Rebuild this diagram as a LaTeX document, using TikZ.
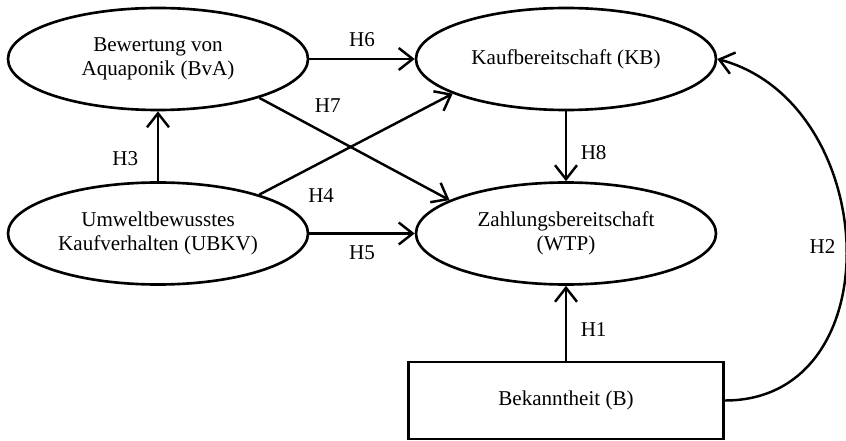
\documentclass[tikz,border=0pt]{standalone}
\usepackage{fontspec}
\setmainfont{Liberation Serif}
\usetikzlibrary{shapes.geometric, arrows.meta, positioning}

\begin{document}
\begin{tikzpicture}[
    font=\fontsize{12}{14}\selectfont,
    line width=1.4pt,
    construct/.style={
        draw=black,
        ellipse,
        line width=1.5pt,
        minimum width=6.0cm,
        minimum height=2.04cm,
        inner sep=0pt,
        align=center
    },
    indicator/.style={
        draw=black,
        rectangle,
        line width=1.5pt,
        minimum width=6.3cm,
        minimum height=1.54cm,
        align=center
    },
    hyp/.style={
        -{Straight Barb[length=2.8mm,width=4.4mm]},
        line width=1.4pt
    },
    hlabel/.style={
        inner sep=2pt
    }
]

\useasboundingbox (0,0) rectangle (16.92,8.8);

% --- CONSTRUCTS -----------------------------------------------

\node[construct] (BvA) at (3.16,7.62) {Bewertung von\\Aquaponik (BvA)};
\node[construct] (UBKV) at (3.16,4.13) {Umweltbewusstes\\Kaufverhalten (UBKV)};
\node[construct] (KB) at (11.32,7.62) {Kaufbereitschaft (KB)};
\node[construct] (WTP) at (11.32,4.13) {Zahlungsbereitschaft\\(WTP)};

\node[indicator] (B) at (11.32,0.79) {Bekanntheit (B)};

% --- HYPOTHESES -----------------------------------------------

\draw[hyp] (B) -- node[hlabel, pos=0.42, right=0.2cm] {H1} (WTP);

\draw[hyp] (B.east) to[out=0, in=-15, looseness=1.27]
    node[hlabel, pos=0.5, left=0.12cm] {H2} (KB.east);

\draw[hyp] (UBKV) -- node[hlabel, pos=0.33, left=0.3cm] {H3} (BvA);

\draw[hyp] (UBKV.21.5) -- node[hlabel, pos=0.32, below=0.43cm] {H4} (KB.-163.7);

\draw[hyp] (UBKV) -- node[hlabel, below=0.15cm] {H5} (WTP);

\draw[hyp] (BvA) -- node[hlabel, above=0.15cm] {H6} (KB);

\draw[hyp] (BvA.-21.5) -- node[hlabel, pos=0.36, above=0.34cm] {H7} (WTP.164);

\draw[hyp] (KB) -- node[hlabel, pos=0.59, right=0.2cm] {H8} (WTP);

\end{tikzpicture}
\end{document}
